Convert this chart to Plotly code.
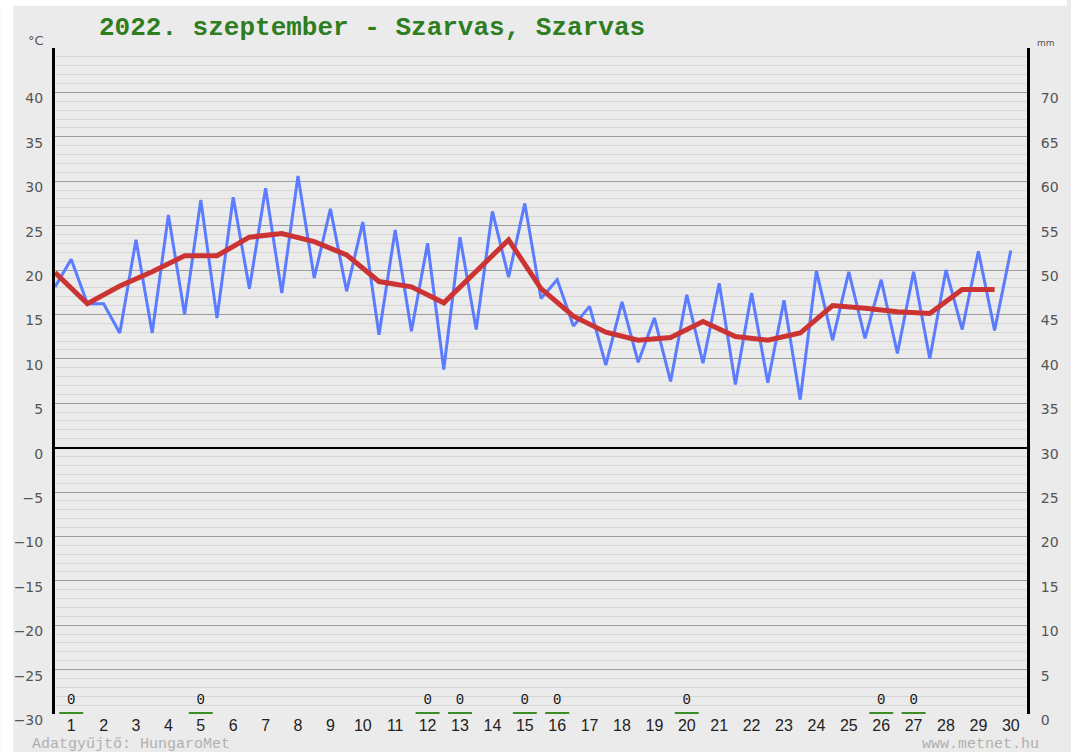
import plotly.graph_objects as go

# ---------------- data ----------------
days = list(range(1, 31))
day_labels = [str(d) for d in days]

t_min = [18.1, 16.2, 12.9, 12.9, 15.0, 14.6, 17.9, 17.4, 19.1, 17.6,
         12.7, 13.1, 8.8, 13.3, 19.2, 16.8, 13.7, 9.3, 9.6, 7.45,
         9.5, 7.1, 7.3, 5.4, 12.1, 12.3, 10.6, 10.0, 13.3, 13.2]
t_max = [21.2, 16.2, 23.4, 26.2, 27.9, 28.2, 29.2, 30.6, 26.9, 25.4,
         24.5, 23.0, 23.7, 26.6, 27.5, 18.9, 15.9, 16.4, 14.6, 17.2,
         18.5, 17.4, 16.6, 19.9, 19.8, 18.9, 19.8, 20.0, 22.1, 22.2]
t_mean = [19.7, 16.2, 18.2, 19.8, 21.6, 21.6, 23.7, 24.1, 23.2, 21.7,
          18.7, 18.1, 16.3, 19.8, 23.4, 17.9, 14.8, 13.0, 12.1, 12.4,
          14.2, 12.5, 12.1, 12.9, 16.0, 15.7, 15.3, 15.1, 17.8, 17.8]

precip_days = [1, 5, 12, 13, 15, 16, 20, 26, 27]
precip_mm = [0, 0, 0, 0, 0, 0, 0, 0, 0]

temp_ticks = list(range(-30, 41, 5))
mm_ticks = list(range(0, 71, 5))

title_text = "2022. szeptember - Szarvas, Szarvas"

# ---------------- geometry ----------------
W, H = 1071, 752
ML, MR, MT, MB = 55, 40, 48, 38
PW = W - ML - MR
PH = H - MT - MB

def px_x(p):
    return (p - ML) / PW

def px_y(p):
    return (H - MB - p) / PH

# ---------------- traces ----------------
bx, by = [], []
for d, lo, hi in zip(days, t_min, t_max):
    bx += [d - 0.5, d]
    by += [lo, hi]

mx = [d - 0.5 for d in days]

gx, gy = [], []
for d, p in zip(precip_days, precip_mm):
    gx += [d - 0.37, d + 0.37, None]
    gy += [p, p, None]

fig = go.Figure()
fig.add_trace(go.Scatter(x=bx, y=by, mode="lines",
                         line=dict(color="#5b7cff", width=3),
                         hoverinfo="skip", showlegend=False))
fig.add_trace(go.Scatter(x=mx, y=t_mean, mode="lines",
                         line=dict(color="#cc3333", width=5),
                         hoverinfo="skip", showlegend=False))
fig.add_trace(go.Scatter(x=gx, y=gy, yaxis="y2", mode="lines",
                         line=dict(color="#3c8c28", width=4),
                         hoverinfo="skip", showlegend=False))
fig.add_trace(go.Scatter(x=precip_days, y=precip_mm, yaxis="y2", mode="markers+text",
                         marker=dict(size=9, color="rgba(0,0,0,0)"),
                         text=[str(p) for p in precip_mm],
                         textposition="top center",
                         textfont=dict(family="Liberation Mono", size=14, color="#111"),
                         cliponaxis=False,
                         hoverinfo="skip", showlegend=False))

fig.update_layout(
    width=W, height=H,
    margin=dict(l=ML, r=MR, t=MT, b=MB, pad=0),
    paper_bgcolor="#ebebeb",
    plot_bgcolor="#ebebeb",
    showlegend=False,
    xaxis=dict(range=[0.5, 30.5], tickvals=days, ticktext=day_labels,
               showgrid=False, zeroline=False, showline=False, ticks="",
               ticklabelstandoff=0,
               tickfont=dict(family="Liberation Sans", size=16, color="#222")),
    yaxis=dict(range=[-30, 45], tickvals=temp_ticks,
               showgrid=True, gridcolor="#9c9c9c", gridwidth=1,
               minor=dict(dtick=1, showgrid=True, gridcolor="#d6d6d6", gridwidth=1),
               zeroline=True, zerolinecolor="#000", zerolinewidth=2,
               showline=True, linecolor="#000", linewidth=3, ticks="",
               ticklabelshift=6, ticklabelstandoff=6,
               tickfont=dict(family="DejaVu Sans", size=14, color="#555")),
    yaxis2=dict(range=[0, 75], tickvals=mm_ticks, overlaying="y", side="right",
                showgrid=False, zeroline=False,
                showline=True, linecolor="#000", linewidth=3, ticks="",
                ticklabelshift=6, ticklabelstandoff=8,
                tickfont=dict(family="DejaVu Sans", size=14, color="#555")),
    shapes=[
        dict(type="rect", xref="paper", yref="paper", layer="below",
             x0=px_x(0), x1=px_x(W), y0=px_y(6), y1=px_y(0),
             fillcolor="#ffffff", line=dict(width=0)),
        dict(type="rect", xref="paper", yref="paper", layer="below",
             x0=px_x(0), x1=px_x(13), y0=px_y(H), y1=px_y(0),
             fillcolor="#ffffff", line=dict(width=0)),
    ],
    annotations=[
        dict(text=title_text, xref="paper", yref="paper",
             x=px_x(97), y=px_y(28), xanchor="left", yanchor="middle",
             showarrow=False,
             font=dict(family="Courier New, Liberation Mono, monospace",
                       size=26, color="#2e7d1e", weight="bold")),
        dict(text="°C", xref="paper", yref="paper",
             x=px_x(36), y=px_y(40), xanchor="center", yanchor="middle",
             showarrow=False, font=dict(family="DejaVu Sans", size=13, color="#555")),
        dict(text="mm", xref="paper", yref="paper",
             x=px_x(1050), y=px_y(43), xanchor="center", yanchor="middle",
             showarrow=False, font=dict(family="DejaVu Sans", size=9, color="#555")),
        dict(text="Adatgyűjtő: HungaroMet", xref="paper", yref="paper",
             x=px_x(30), y=px_y(744), xanchor="left", yanchor="middle",
             showarrow=False,
             font=dict(family="Liberation Mono", size=15, color="#b0b0b0")),
        dict(text="www.metnet.hu", xref="paper", yref="paper",
             x=px_x(1045), y=px_y(744), xanchor="right", yanchor="middle",
             showarrow=False,
             font=dict(family="Liberation Mono", size=15, color="#b0b0b0")),
    ],
)

fig.write_html("out.html",
               config={"displayModeBar": False},
               post_script="document.body.style.margin='0px';"
                           "document.body.style.overflow='hidden';")
